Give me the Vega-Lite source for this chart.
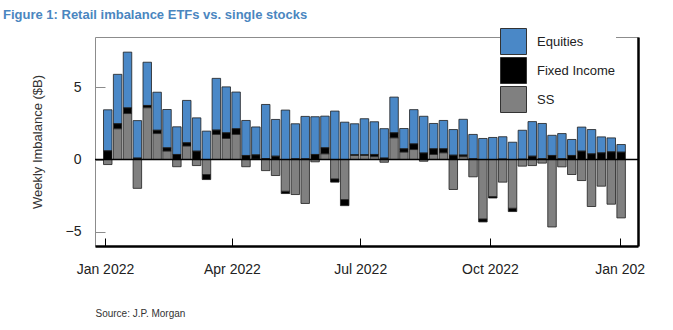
{
  "$schema": "https://vega.github.io/schema/vega-lite/v6.json",
  "width": 543,
  "height": 209,
  "autosize": "none",
  "padding": {"left": 95, "top": 37, "right": 35, "bottom": 84},
  "background": "white",
  "title": {
    "text": "Figure 1: Retail imbalance ETFs vs. single stocks",
    "anchor": "start",
    "frame": "group",
    "dx": -92,
    "offset": 6,
    "font": "Liberation Sans",
    "fontSize": 13,
    "fontWeight": "bold",
    "color": "#4a86c0"
  },
  "config": {
    "view": {"stroke": "#8c8c8c", "strokeWidth": 1},
    "font": "Liberation Sans"
  },
  "resolve": {"axis": {"y": "independent"}},
  "layer": [
    {
      "data": {
        "values": [
          {"d": "2022-01-03", "Equities": 2.85, "Fixed Income": 0.6, "SS": -0.35},
          {"d": "2022-01-10", "Equities": 3.43, "Fixed Income": 0.35, "SS": 2.13},
          {"d": "2022-01-17", "Equities": 3.87, "Fixed Income": 0.39, "SS": 3.19},
          {"d": "2022-01-24", "Equities": 2.6, "Fixed Income": 0.1, "SS": -2.0},
          {"d": "2022-01-31", "Equities": 3.0, "Fixed Income": 0.16, "SS": 3.59},
          {"d": "2022-02-07", "Equities": 2.64, "Fixed Income": 0.23, "SS": 1.8},
          {"d": "2022-02-14", "Equities": 2.66, "Fixed Income": 0.23, "SS": 0.58},
          {"d": "2022-02-21", "Equities": 1.92, "Fixed Income": 0.35, "SS": -0.5},
          {"d": "2022-02-28", "Equities": 2.94, "Fixed Income": 0.23, "SS": 0.93},
          {"d": "2022-03-07", "Equities": 2.31, "Fixed Income": 0.58, "SS": -0.42},
          {"d": "2022-03-14", "Equities": 1.97, "Fixed Income": -0.35, "SS": -1.04},
          {"d": "2022-03-21", "Equities": 3.59, "Fixed Income": 0.3, "SS": 1.74},
          {"d": "2022-03-28", "Equities": 3.19, "Fixed Income": 0.39, "SS": 1.46},
          {"d": "2022-04-04", "Equities": 2.55, "Fixed Income": 0.39, "SS": 1.74},
          {"d": "2022-04-11", "Equities": 2.43, "Fixed Income": 0.28, "SS": -0.5},
          {"d": "2022-04-18", "Equities": 1.94, "Fixed Income": 0.3, "SS": 0.02},
          {"d": "2022-04-25", "Equities": 3.75, "Fixed Income": 0.07, "SS": -0.77},
          {"d": "2022-05-02", "Equities": 2.55, "Fixed Income": 0.23, "SS": -1.11},
          {"d": "2022-05-09", "Equities": 3.43, "Fixed Income": -0.16, "SS": -2.2},
          {"d": "2022-05-16", "Equities": 2.43, "Fixed Income": 0.05, "SS": -2.43},
          {"d": "2022-05-23", "Equities": 2.94, "Fixed Income": 0.05, "SS": -3.05},
          {"d": "2022-05-30", "Equities": 2.62, "Fixed Income": 0.35, "SS": -0.16},
          {"d": "2022-06-06", "Equities": 2.2, "Fixed Income": 0.42, "SS": 0.39},
          {"d": "2022-06-13", "Equities": 3.36, "Fixed Income": -0.23, "SS": -1.34},
          {"d": "2022-06-20", "Equities": 2.59, "Fixed Income": -0.42, "SS": -2.78},
          {"d": "2022-06-27", "Equities": 2.15, "Fixed Income": 0.05, "SS": 0.28},
          {"d": "2022-07-04", "Equities": 2.5, "Fixed Income": 0.05, "SS": 0.28},
          {"d": "2022-07-11", "Equities": 2.27, "Fixed Income": 0.16, "SS": 0.19},
          {"d": "2022-07-18", "Equities": 2.04, "Fixed Income": 0.1, "SS": -0.19},
          {"d": "2022-07-25", "Equities": 2.48, "Fixed Income": 0.35, "SS": 1.5},
          {"d": "2022-08-01", "Equities": 1.41, "Fixed Income": 0.23, "SS": 0.51},
          {"d": "2022-08-08", "Equities": 2.38, "Fixed Income": 0.39, "SS": 0.69},
          {"d": "2022-08-15", "Equities": 2.55, "Fixed Income": 0.45, "SS": -0.12},
          {"d": "2022-08-22", "Equities": 1.76, "Fixed Income": 0.39, "SS": 0.35},
          {"d": "2022-08-29", "Equities": 1.97, "Fixed Income": 0.28, "SS": 0.46},
          {"d": "2022-09-05", "Equities": 1.78, "Fixed Income": 0.3, "SS": -2.08},
          {"d": "2022-09-12", "Equities": 2.48, "Fixed Income": 0.12, "SS": 0.19},
          {"d": "2022-09-19", "Equities": 1.69, "Fixed Income": 0.05, "SS": -1.2},
          {"d": "2022-09-26", "Equities": 1.46, "Fixed Income": -0.21, "SS": -4.12},
          {"d": "2022-10-03", "Equities": 1.53, "Fixed Income": -0.1, "SS": -2.57},
          {"d": "2022-10-10", "Equities": 1.55, "Fixed Income": 0.03, "SS": -1.57},
          {"d": "2022-10-17", "Equities": 1.2, "Fixed Income": -0.23, "SS": -3.38},
          {"d": "2022-10-24", "Equities": 2.01, "Fixed Income": 0.02, "SS": -0.46},
          {"d": "2022-10-31", "Equities": 2.4, "Fixed Income": 0.23, "SS": -0.42},
          {"d": "2022-11-07", "Equities": 2.45, "Fixed Income": 0.05, "SS": -0.25},
          {"d": "2022-11-14", "Equities": 1.4, "Fixed Income": 0.28, "SS": -4.68},
          {"d": "2022-11-21", "Equities": 1.75, "Fixed Income": 0.05, "SS": -0.51},
          {"d": "2022-11-28", "Equities": 1.11, "Fixed Income": 0.28, "SS": -1.04},
          {"d": "2022-12-05", "Equities": 1.67, "Fixed Income": 0.58, "SS": -1.46},
          {"d": "2022-12-12", "Equities": 1.69, "Fixed Income": 0.39, "SS": -3.26},
          {"d": "2022-12-19", "Equities": 1.11, "Fixed Income": 0.46, "SS": -1.85},
          {"d": "2022-12-26", "Equities": 0.97, "Fixed Income": 0.53, "SS": -3.1},
          {"d": "2023-01-02", "Equities": 0.53, "Fixed Income": 0.51, "SS": -4.05}
        ]
      },
      "transform": [{"fold": ["Equities", "Fixed Income", "SS"], "as": ["series", "value"]}],
      "mark": {"type": "bar", "width": 8.5, "stroke": "#1e1e1e", "strokeWidth": 0.8},
      "encoding": {
        "x": {
          "field": "d",
          "type": "temporal",
          "scale": {"type": "utc", "domain": [{"year": 2021, "month": 12, "date": 28, "hours": 12, "utc": true}, {"year": 2023, "month": 1, "date": 10, "hours": 10, "utc": true}]},
          "axis": {
            "values": [
              {"year": 2022, "month": 1, "date": 1, "utc": true},
              {"year": 2022, "month": 4, "date": 1, "utc": true},
              {"year": 2022, "month": 7, "date": 1, "utc": true},
              {"year": 2022, "month": 10, "date": 1, "utc": true},
              {"year": 2023, "month": 1, "date": 1, "utc": true}
            ],
            "labelExpr": "utcFormat(datum.value, '%b %Y') == 'Jan 2023' ? 'Jan 202' : utcFormat(datum.value, '%b %Y')",
            "labelFontSize": 14,
            "labelColor": "#222222",
            "labelPadding": 24,
            "tickSize": -8,
            "tickColor": "#000000",
            "tickWidth": 1,
            "domainColor": "#000000",
            "domainWidth": 2.5,
            "grid": false,
            "title": "Source: J.P. Morgan",
            "titleAnchor": "start",
            "titleAlign": "left",
            "titleFontSize": 10,
            "titleFontWeight": "normal",
            "titleColor": "#333333",
            "titlePadding": 32
          }
        },
        "y": {
          "field": "value",
          "type": "quantitative",
          "stack": "zero",
          "scale": {"domain": [-6, 8.5], "nice": false, "zero": false},
          "axis": {
            "values": [-5, 0, 5],
            "domain": false,
            "grid": false,
            "tickSize": -10,
            "tickColor": "#8c8c8c",
            "labelFontSize": 14,
            "labelColor": "#222222",
            "labelPadding": 24,
            "title": "Weekly Imbalance ($B)",
            "titleFontSize": 13,
            "titleFontWeight": "normal",
            "titleColor": "#333333",
            "titlePadding": 21
          }
        },
        "color": {
          "field": "series",
          "type": "nominal",
          "scale": {"domain": ["Equities", "Fixed Income", "SS"], "range": ["#4a88c7", "#000000", "#808080"]},
          "legend": {
            "orient": "none",
            "legendX": 405,
            "legendY": -9,
            "title": null,
            "symbolType": "square",
            "symbolSize": 676,
            "symbolStrokeColor": "#333333",
            "symbolStrokeWidth": 1,
            "symbolOpacity": 1,
            "labelFontSize": 13,
            "labelColor": "#222222",
            "labelOffset": 10,
            "rowPadding": -2,
            "fillColor": "white",
            "padding": 0
          }
        },
        "order": {"field": "series", "sort": "descending"}
      }
    },
    {
      "data": {"values": [{"z": 0}]},
      "mark": {"type": "rule", "color": "#000000", "strokeWidth": 1.5},
      "encoding": {
        "y": {
          "field": "z",
          "type": "quantitative",
          "axis": {"orient": "right", "labels": false, "ticks": false, "grid": false, "title": null, "domainColor": "#000000", "domainWidth": 2.5}
        }
      }
    }
  ]
}
